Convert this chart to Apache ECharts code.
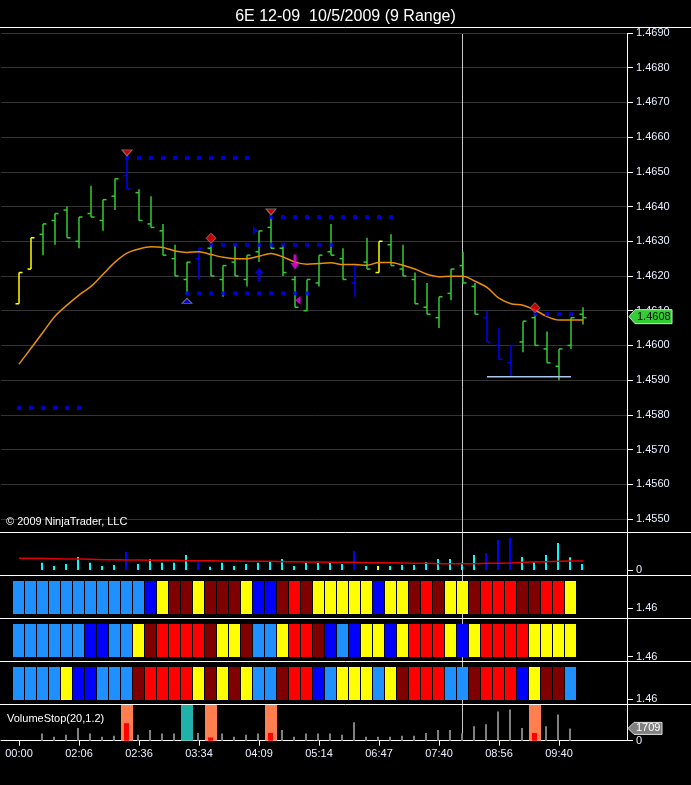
<!DOCTYPE html>
<html><head><meta charset="utf-8">
<script src="https://cdn.jsdelivr.net/npm/echarts@6/dist/echarts.min.js"></script>
<style>html,body{margin:0;padding:0;background:#000;}#c{width:691px;height:785px;}</style>
</head><body><div id="c"></div>
<script>
// ---------- DATA ----------
const titleText = '6E 12-09  10/5/2009 (9 Range)';
const timeTicks = ['00:00','02:06','02:36','03:34','04:09','05:14','06:47','07:40','08:56','09:40'];
const tickEvery = 5;
const opens  = [1.4612,1.4622,1.4632,1.4636,1.4639,1.4630,1.4638,1.4636,1.4643,1.4649,1.4644,1.4635,1.4633,1.4625,1.4619,1.4625,1.4628,1.4619,1.4624,1.4619,1.4627,1.4634,1.4628,1.4619,1.4610,1.4618,1.4627,1.4625,1.4618,1.4624,1.4621,1.4629,1.4622,1.4619,1.4611,1.4608,1.4615,1.4623,1.4617,1.4608,1.4600,1.4595,1.4601,1.4608,1.4599,1.4594,1.4600,1.4609];
const highs  = [1.4621,1.4631,1.4635,1.4638,1.4640,1.4637,1.4646,1.4642,1.4648,1.4654,1.4645,1.4643,1.4635,1.4629,1.4624,1.4628,1.4629,1.4623,1.4629,1.4626,1.4633,1.4637,1.4629,1.4620,1.4619,1.4626,1.4635,1.4628,1.4623,1.4631,1.4630,1.4632,1.4629,1.4621,1.4618,1.4614,1.4622,1.4627,1.4618,1.4610,1.4605,1.4600,1.4607,1.4609,1.4604,1.4599,1.4608,1.4611];
const lows   = [1.4612,1.4622,1.4626,1.4629,1.4631,1.4628,1.4637,1.4633,1.4639,1.4645,1.4636,1.4634,1.4626,1.4620,1.4615,1.4619,1.4620,1.4614,1.4620,1.4617,1.4624,1.4628,1.4620,1.4611,1.4610,1.4617,1.4626,1.4619,1.4614,1.4622,1.4621,1.4623,1.4620,1.4612,1.4609,1.4605,1.4613,1.4618,1.4609,1.4601,1.4596,1.4591,1.4598,1.4600,1.4595,1.4590,1.4599,1.4606];
const closes = [1.4621,1.4631,1.4635,1.4638,1.4631,1.4637,1.4637,1.4642,1.4648,1.4645,1.4636,1.4634,1.4626,1.4620,1.4624,1.4628,1.4620,1.4623,1.4620,1.4626,1.4633,1.4628,1.4621,1.4611,1.4619,1.4626,1.4626,1.4619,1.4623,1.4622,1.4630,1.4623,1.4620,1.4612,1.4609,1.4614,1.4622,1.4618,1.4609,1.4601,1.4596,1.4600,1.4607,1.4600,1.4595,1.4599,1.4608,1.4608];
// bar colour class: Y yellow, G green, B blue
const barKind = 'YYGGGGGGGBGGGGGBGGGGGGGGGGGGBGYGGGGGGGGBBBGGGGGG'.split('');
const ema = [1.45946,1.45992,1.46038,1.46084,1.46116,1.46145,1.46170,1.46205,1.46240,1.46266,1.46278,1.46284,1.46282,1.46272,1.46268,1.46270,1.46262,1.46254,1.46250,1.46250,1.46257,1.46265,1.46255,1.46240,1.46234,1.46236,1.46238,1.46233,1.46233,1.46231,1.46239,1.46239,1.46231,1.46220,1.46205,1.46198,1.46199,1.46199,1.46185,1.46167,1.46136,1.46120,1.46116,1.46102,1.46083,1.46073,1.46073,1.46073];
// dotted stop levels
const dotPrice = [1.4654, 1.4615, 1.4629, 1.4637, 1.4609, 1.4582];
const dotFrom  = [9, 14, 16, 21, 43, 0];
const dotTo    = [19, 24, 26, 31, 46, 5];
// low line
const lowLinePrice = 1.4591, lowLineFrom = 39, lowLineTo = 46;
// markers
const redTriDown  = [[9, 1.4654], [21, 1.4637]];
const blueTriUp   = [[14, 1.4615]];
const redDiamonds = [[16, 1.4629], [43, 1.4609]];
const blueArrowUp = [[20, 1.4624]];
const pinkArrowDn = [[23, 1.4620]];
const blueTriRight = [[20, 1.4633]];
const pinkTriLeft  = [[23, 1.4613]];
const crossIdx = 37;
// volume
const vol = [null,null,990,540,810,1755,990,540,675,2430,810,1485,990,990,2025,1080,450,990,540,810,990,1080,1485,540,990,990,990,810,2565,540,540,540,675,675,1080,1485,1485,990,2025,2295,4050,4320,1755,1080,2025,3645,1709,810];
const volAvg = [1575,1575,1575,1530,1485,1485,1440,1395,1395,1350,1350,1305,1305,1305,1260,1260,1260,1215,1215,1170,1170,1170,1125,1125,1080,1080,1035,1035,1035,990,990,990,945,900,900,855,855,855,855,900,900,945,1035,1080,1125,1170,1215,1215];
// colour panels: L light blue, B blue, Y yellow, D dark red, R red
const panel1 = 'LLLLLLLLLLLBYDDYDDDYBBDRDYYYYYBYYDRDYYDRRRDDRRY'.split('');
const panel2 = 'LLLLLLBBLLYDRRRRDYYDLLYRRDBLBYYBYRRRYBYRRRRYYYY'.split('');
const panel3 = 'LLLLYBBLLLDRRRRYDYDYLLDRRBLYYYLYDRRRLLDRRRBYDDL'.split('');
const panelLabel = 1.46;
// VolumeStop
const vsCount = 47;
const vsOrange = [9, 16, 21, 43];
const vsTeal = [14];
const vsLabel = 'VolumeStop(20,1.2)';
const copyright = '\u00A9 2009 NinjaTrader, LLC';

// ---------- STYLE ----------
const kindColor = {Y:'#ffff00', G:'#32cd32', B:'#0000ff'};
const volColor  = {Y:'#ffff00', G:'#00ffff', B:'#0000ff'};
const boxColor  = {L:'#1e90ff', B:'#0000ff', Y:'#ffff00', D:'#800000', R:'#ff0000'};
const labelColor = '#e8f0ff';
const FONT = 'Liberation Sans, Arial, sans-serif';
const XMIN = -1.5, XMAX = 50.75;

const chart = echarts.init(document.getElementById('c'), null, {renderer:'canvas'});

function renderOHLC(params, api) {
  const i = api.value(0);
  const o = api.coord([i, api.value(1)]);
  const h = api.coord([i, api.value(2)]);
  const l = api.coord([i, api.value(3)]);
  const c = api.coord([i, api.value(4)]);
  const x = Math.round(h[0]);
  const st = {stroke: kindColor[barKind[i]], lineWidth: 1.5};
  return {type:'group', children:[
    {type:'line', shape:{x1:x, y1:h[1], x2:x, y2:l[1]}, style:st},
    {type:'line', shape:{x1:x-3.5, y1:o[1], x2:x, y2:o[1]}, style:st},
    {type:'line', shape:{x1:x, y1:c[1], x2:x+3.5, y2:c[1]}, style:st}
  ]};
}
function boxRenderer(codes) {
  return function(params, api) {
    const i = api.value(0);
    const p = api.coord([i, api.value(1)]);
    const cs = params.coordSys;
    const x = Math.round(p[0]);
    return {type:'rect', shape:{x:x-6, y:cs.y+6, width:11, height:33}, style:{fill: boxColor[codes[i]]}};
  };
}
function renderVol(params, api) {
  const i = api.value(0);
  const t = api.coord([i, api.value(1)]);
  const b = api.coord([i, 0]);
  const x = Math.round(t[0]);
  return {type:'rect', shape:{x:x-2, y:t[1], width:2, height:b[1]-t[1]}, style:{fill: volColor[barKind[i]]}};
}
function renderVS(params, api) {
  const i = api.value(0);
  const t = api.coord([i, api.value(1)]);
  const b = api.coord([i, 0]);
  const x = Math.round(t[0]);
  const cs = params.coordSys;
  if (vsOrange.indexOf(i) >= 0) {
    return {type:'group', children:[
      {type:'rect', shape:{x:x-6, y:cs.y, width:12, height:cs.height}, style:{fill:'#ff7f50'}},
      {type:'rect', shape:{x:x-3, y:t[1], width:5, height:b[1]-t[1]}, style:{fill:'#ff0000'}}
    ]};
  }
  if (vsTeal.indexOf(i) >= 0) {
    return {type:'rect', shape:{x:x-6, y:cs.y, width:12, height:cs.height}, style:{fill:'#20b2aa'}};
  }
  return {type:'rect', shape:{x:x-2, y:t[1], width:2, height:b[1]-t[1]}, style:{fill:'#808080'}};
}

const N = opens.length;
const ohlcData = opens.map((o, i) => [i, o, highs[i], lows[i], closes[i]]);
const dotData = [];
dotPrice.forEach((p, k) => { for (let i = dotFrom[k]; i <= dotTo[k]; i++) dotData.push([i, p]); });
const volData = vol.map((v, i) => v == null ? null : [i, v]).filter(Boolean);
const vsData = vol.slice(0, vsCount).map((v, i) => v == null ? null : [i, v]).filter(Boolean);
const tickVals = timeTicks.map((t, k) => k * tickEvery);

const panelMins = [1.46 - 0.00097, 1.46 - 0.00043, 1.46 - 0.0005];
const gridTops = [33, 533, 575, 618, 661, 704];
const gridHeights = [486, 37, 43, 43, 43, 36.7];

const grids = gridTops.map((t, k) => ({left:1, right:63, top:t, height:gridHeights[k]}));
const xAxes = gridTops.map((t, k) => {
  if (k < 5) return {type:'value', gridIndex:k, min:XMIN, max:XMAX, show:false};
  return {type:'value', gridIndex:k, min:XMIN, max:XMAX,
    axisLine:{show:true, onZero:false, lineStyle:{color:'#ffffff', width:1}},
    axisTick:{show:true, length:5, lineStyle:{color:'#ffffff'}, customValues: tickVals},
    axisLabel:{color:labelColor, fontSize:11, fontFamily:FONT, margin:8, customValues: tickVals,
      formatter: v => timeTicks[Math.round(v / tickEvery)] || ''},
    splitLine:{show:false}};
});
const yTick = {show:true, length:5, lineStyle:{color:'#ffffff'}};
const yLab = {color:labelColor, fontSize:11, fontFamily:FONT, margin:8};
const yLine = {show:false, onZero:false};
const yAxes = [
  {type:'value', gridIndex:0, position:'right', min:1.455, max:1.469, interval:0.001,
    axisLine:yLine, axisTick:yTick, axisLabel:Object.assign({formatter: v => v.toFixed(4)}, yLab),
    splitLine:{show:true, lineStyle:{color:'#333333', width:1}}},
  {type:'value', gridIndex:1, position:'right', min:0, max:5000,
    axisLine:yLine, axisTick:Object.assign({customValues:[0]}, yTick),
    axisLabel:Object.assign({customValues:[0]}, yLab), splitLine:{show:false}}
];
[0,1,2].forEach(k => yAxes.push({type:'value', gridIndex:2+k, position:'right', min:panelMins[k], max:panelMins[k]+0.0043,
  axisLine:yLine, axisTick:Object.assign({customValues:[panelLabel]}, yTick),
  axisLabel:Object.assign({customValues:[panelLabel], formatter: v => v.toFixed(2)}, yLab), splitLine:{show:false}}));
yAxes.push({type:'value', gridIndex:5, position:'right', min:0, max:5100,
  axisLine:yLine, axisTick:Object.assign({customValues:[0]}, yTick),
  axisLabel:Object.assign({customValues:[0]}, yLab), splitLine:{show:false}});

const markerBase = {type:'scatter', xAxisIndex:0, yAxisIndex:0, z:6, silent:true};
const series = [
  {type:'custom', name:'ohlc', xAxisIndex:0, yAxisIndex:0, data: ohlcData, renderItem: renderOHLC, encode:{x:0, y:[1,2,3,4]}, z:3},
  {type:'line', name:'ema', xAxisIndex:0, yAxisIndex:0, data: ema.map((v,i)=>[i,v]), showSymbol:false, smooth:0.3,
    lineStyle:{color:'#e8900a', width:1.5}, z:4},
  {type:'line', name:'low', xAxisIndex:0, yAxisIndex:0, data:[[lowLineFrom, lowLinePrice],[lowLineTo, lowLinePrice]], showSymbol:false,
    lineStyle:{color:'#a8c8f0', width:1.5}, z:4},
  Object.assign({}, markerBase, {data: dotData, symbol:'rect', symbolSize:4, itemStyle:{color:'#0000ff'}, z:5}),
  Object.assign({}, markerBase, {data: redTriDown, symbol:'triangle', symbolRotate:180, symbolSize:[10,6], symbolOffset:[0,-5],
    itemStyle:{color:'#ff0000', borderColor:'#8a8a8a', borderWidth:1}}),
  Object.assign({}, markerBase, {data: blueTriUp, symbol:'triangle', symbolSize:[10,5], symbolOffset:[0,7.5],
    itemStyle:{color:'#0000ff', borderColor:'#8a8a8a', borderWidth:1}}),
  Object.assign({}, markerBase, {data: redDiamonds, symbol:'diamond', symbolSize:[10,10], symbolOffset:[0,-6.5],
    itemStyle:{color:'#ff0000', borderColor:'#8a8a8a', borderWidth:1}}),
  Object.assign({}, markerBase, {data: blueArrowUp, symbol:'path://M4.5,0 L9,6 L6,6 L6,14 L3,14 L3,6 L0,6 Z', symbolSize:[9,14], symbolOffset:[0,12.3],
    itemStyle:{color:'#0000ff'}}),
  Object.assign({}, markerBase, {data: pinkArrowDn, symbol:'path://M3,0 L6,0 L6,8 L9,8 L4.5,14 L0,8 L3,8 Z', symbolSize:[9,15], symbolOffset:[0,-14],
    itemStyle:{color:'#ff00ff'}}),
  Object.assign({}, markerBase, {data: blueTriRight, symbol:'triangle', symbolRotate:-90, symbolSize:[9,5], symbolOffset:[-3.5,0],
    itemStyle:{color:'#0000ff'}}),
  Object.assign({}, markerBase, {data: pinkTriLeft, symbol:'triangle', symbolRotate:90, symbolSize:[9,5], symbolOffset:[3,0],
    itemStyle:{color:'#ff00ff'}}),
  {type:'custom', name:'volume', xAxisIndex:1, yAxisIndex:1, data: volData, renderItem: renderVol, encode:{x:0, y:1}, z:3},
  {type:'line', name:'volAvg', xAxisIndex:1, yAxisIndex:1, data: volAvg.map((v,i)=>[i,v]), showSymbol:false,
    lineStyle:{color:'#e00000', width:1.5}, z:4},
  {type:'custom', xAxisIndex:2, yAxisIndex:2, data: panel1.map((c,i)=>[i, panelLabel]), renderItem: boxRenderer(panel1), encode:{x:0,y:1}, z:3},
  {type:'custom', xAxisIndex:3, yAxisIndex:3, data: panel2.map((c,i)=>[i, panelLabel]), renderItem: boxRenderer(panel2), encode:{x:0,y:1}, z:3},
  {type:'custom', xAxisIndex:4, yAxisIndex:4, data: panel3.map((c,i)=>[i, panelLabel]), renderItem: boxRenderer(panel3), encode:{x:0,y:1}, z:3},
  {type:'custom', name:'volumeStop', xAxisIndex:5, yAxisIndex:5, data: vsData, renderItem: renderVS, encode:{x:0,y:1}, z:3}
];

const white = {stroke:'#ffffff', lineWidth:1};
const frame = [27.5, 532.5, 575.5, 618.5, 661.5, 704.5].map(y => ({type:'line', shape:{x1:0, y1:y, x2:691, y2:y}, style:white, z:10}));
frame.push({type:'line', shape:{x1:627.5, y1:33, x2:627.5, y2:741}, style:white, z:10});
frame.push({type:'text', left:6, top:516, style:{text: copyright, fill:'#ffffff', font:'11px ' + FONT}, z:10});
frame.push({type:'text', left:7, top:713, style:{text: vsLabel, fill:'#ffffff', font:'11px ' + FONT}, z:10});

chart.setOption({
  backgroundColor:'#000000',
  animation:false,
  textStyle:{fontFamily: FONT},
  title:{text: titleText, left:'center', top:4, textStyle:{color:'#ffffff', fontSize:16, fontWeight:'normal', fontFamily:FONT}},
  grid: grids, xAxis: xAxes, yAxis: yAxes, series: series,
  graphic: {elements: frame}
});

// cursor line and value tags, positioned through the axes
const xC = Math.round(chart.convertToPixel({xAxisIndex:0}, crossIdx)) - 0.5;
const lastPrice = closes[N-1];
const yP = chart.convertToPixel({yAxisIndex:0}, lastPrice) - 1;
const lastVS = vol[vsCount-1];
const yV = chart.convertToPixel({yAxisIndex:5}, lastVS);
const extra = frame.concat([
  {type:'line', shape:{x1:xC, y1:34, x2:xC, y2:741}, style:{stroke:'#c8c8c8', lineWidth:1}, z:1},
  {type:'polygon', shape:{points:[[629,yP],[635,yP-7],[672,yP-7],[672,yP+7],[635,yP+7]]}, style:{fill:'#32cd32', stroke:'#b8f0b8', lineWidth:1}, z:20},
  {type:'text', x:637, y:yP, style:{text: lastPrice.toFixed(4), fill:'#000000', font:'11px ' + FONT, verticalAlign:'middle'}, z:21},
  {type:'polygon', shape:{points:[[628,yV],[634,yV-6],[662,yV-6],[662,yV+6],[634,yV+6]]}, style:{fill:'#808080', stroke:'#e0e0e0', lineWidth:1}, z:20},
  {type:'text', x:636, y:yV, style:{text: String(lastVS), fill:'#ffffff', font:'11px ' + FONT, verticalAlign:'middle'}, z:21}
]);
chart.setOption({graphic:{elements: extra}}, {replaceMerge:['graphic']});
</script>
</body></html>
